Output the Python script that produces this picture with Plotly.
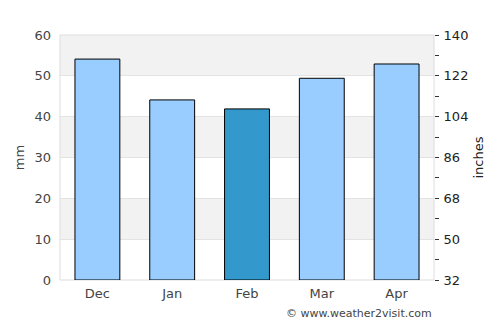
import plotly.graph_objects as go

months = ["Dec", "Jan", "Feb", "Mar", "Apr"]
rain_mm = [54.1, 44.1, 41.9, 49.4, 52.9]
bar_colors = ["#99ccff", "#99ccff", "#3399cc", "#99ccff", "#99ccff"]
left_ticks = [0, 10, 20, 30, 40, 50, 60]
right_ticks = [32, 50, 68, 86, 104, 122, 140]

FONT = "DejaVu Sans"

fig = go.Figure()
fig.add_trace(go.Bar(
    x=months, y=rain_mm, width=0.6,
    marker=dict(color=bar_colors, line=dict(color="#000000", width=1)),
    hoverinfo="skip",
))
fig.add_trace(go.Scatter(x=months, y=[None] * len(months), yaxis="y2",
                         mode="markers", showlegend=False, hoverinfo="skip"))

shapes = []
for lo in [10, 30, 50]:
    shapes.append(dict(type="rect", xref="paper", yref="y", x0=0, x1=1, y0=lo, y1=lo + 10,
                       fillcolor="#f2f2f2", line=dict(width=0), layer="below"))
shapes.append(dict(type="rect", xref="paper", yref="paper", x0=0, x1=1, y0=0, y1=1,
                   fillcolor="rgba(0,0,0,0)", line=dict(color="#dddddd", width=1), layer="below"))

fig.update_layout(
    width=500, height=325,
    margin=dict(l=60, r=66, t=35, b=45),
    paper_bgcolor="#ffffff", plot_bgcolor="#ffffff",
    showlegend=False,
    shapes=shapes,
    font=dict(family=FONT, size=13, color="#444444"),
    xaxis=dict(type="category", showgrid=False, zeroline=False, showline=False,
               ticks="", tickfont=dict(size=13, color="#444444"), ticklabelstandoff=4,
               range=[-0.5, 4.5]),
    yaxis=dict(range=[0, 60], tickvals=left_ticks, showgrid=True, gridcolor="#e3e3e3",
               gridwidth=1, zeroline=False, showline=False, ticks="",
               tickfont=dict(size=13, color="#444444"), ticklabelstandoff=8,
               title=dict(text="mm", font=dict(size=13, color="#444444"), standoff=6)),
    yaxis2=dict(range=[32, 140], tickvals=right_ticks, overlaying="y", side="right",
                showgrid=False, zeroline=False, showline=False,
                ticks="outside", ticklen=4, tickcolor="#333333", tickwidth=1,
                minor=dict(dtick=9, tick0=32, ticks="outside", ticklen=4, tickcolor="#333333"),
                tickfont=dict(size=13, color="#222222"), ticklabelstandoff=2,
                title=dict(text="inches", font=dict(size=13, color="#222222"), standoff=6)),
    annotations=[dict(text="© www.weather2visit.com", xref="paper", yref="paper",
                      x=1.0, y=0, yshift=-33, xanchor="right", yanchor="middle",
                      showarrow=False, font=dict(size=11, color="#444444"))],
)

fig.write_html("out.html")
